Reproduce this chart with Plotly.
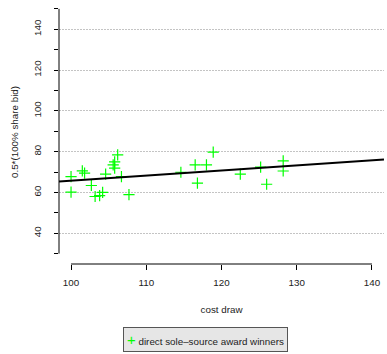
import plotly.graph_objects as go

# data
cost_draw = [100.0, 100.0, 101.5, 101.8, 102.7, 103.2, 103.8, 104.2, 104.6, 105.6,
             105.8, 105.8, 106.2, 106.7, 107.7, 114.6, 116.8, 116.5, 118.0, 118.9,
             122.5, 125.2, 126.0, 128.2, 128.2]
half_bid = [67.7, 60.1, 70.6, 69.5, 63.4, 58.0, 58.4, 60.0, 69.0, 73.5,
            75.0, 71.9, 78.4, 67.7, 58.9, 69.9, 64.6, 73.5, 73.5, 79.8,
            69.0, 72.4, 64.0, 75.5, 70.5]
fit_intercept_at_100 = 65.8
fit_slope = 0.248

x_ticks = [100, 110, 120, 130, 140]
y_ticks = [40, 60, 80, 100, 120, 140]
y_minor = list(range(30, 151, 10))

x_range = [98.4, 141.6]
y_range = [24.9, 154.35]

FONT = "Liberation Sans, Arial, Helvetica, sans-serif"
GREEN = "#00ff00"

fit_x = x_range
fit_y = [fit_intercept_at_100 + fit_slope * (v - 100) for v in fit_x]

fig = go.Figure()
fig.add_trace(go.Scatter(
    x=cost_draw, y=half_bid, mode="markers",
    marker=dict(symbol="cross-thin-open", size=8, color=GREEN,
                line=dict(color=GREEN, width=1.2)),
    name="direct sole\u2013source award winners", showlegend=False,
    cliponaxis=False))
fig.add_trace(go.Scatter(
    x=fit_x, y=fit_y, mode="lines", line=dict(color="black", width=2),
    showlegend=False, hoverinfo="skip"))

# axis lines spanning first to last tick (R style)
fig.add_shape(type="line", xref="x", yref="paper", x0=x_ticks[0], x1=x_ticks[-1],
              y0=0, y1=0, line=dict(color="black", width=1))
fig.add_shape(type="line", xref="paper", yref="y", x0=0, x1=0,
              y0=y_minor[0], y1=y_minor[-1], line=dict(color="black", width=1))

# legend box
fig.add_annotation(
    xref="paper", yref="paper", x=(122.3 - 58.6) / 325.4, y=(264.3 - 327.7) / 264.3,
    xanchor="left", yanchor="top", showarrow=False, align="left",
    text="<span style='color:%s;font-size:15px'>+</span> direct sole\u2013source award winners" % GREEN,
    font=dict(family=FONT, size=9.8, color="#222222"),
    bgcolor="#e6e6e6", bordercolor="#555555", borderwidth=1, borderpad=3)

fig.update_layout(
    width=387, height=354,
    margin=dict(l=58.6, r=3, t=0, b=89.7, pad=0),
    paper_bgcolor="white", plot_bgcolor="white",
    font=dict(family=FONT, size=9.8, color="#222222"),
    showlegend=False,
    xaxis=dict(range=x_range, tickvals=x_ticks, ticks="outside", ticklen=5,
               tickcolor="black", showline=False, showgrid=False, zeroline=False,
               title=dict(text="cost draw", standoff=19,
                          font=dict(family=FONT, size=9.8, color="#222222")),
               ticklabelstandoff=4),
    yaxis=dict(range=y_range, tickvals=y_ticks, ticks="outside", ticklen=4,
               tickcolor="black", tickangle=-90, showline=False,
               showgrid=True, gridcolor="#c4c4c4", griddash="1.5px,1.5px", gridwidth=1,
               zeroline=False,
               minor=dict(tickvals=y_minor, ticks="outside", ticklen=4,
                          tickcolor="black", showgrid=False),
               title=dict(text="0.5*(100% share bid)", standoff=11,
                          font=dict(family=FONT, size=9.8, color="#222222")),
               ticklabelstandoff=9),
)

fig.write_html("out.html")
